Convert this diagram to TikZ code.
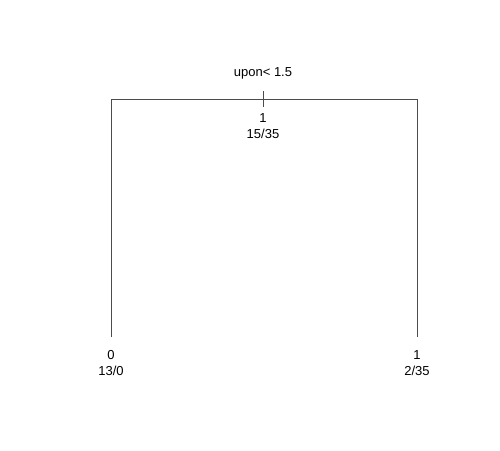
\documentclass[tikz,border=0pt]{standalone}
\usepackage{fontspec}
\setmainfont{Liberation Sans}
\begin{document}
\begin{tikzpicture}[x=1pt,y=-1pt,
  lbl/.style={inner sep=0pt,font=\fontsize{13}{15}\selectfont},
  edge/.style={draw=black!70,line width=0.8pt}]
\useasboundingbox (0,0) rectangle (500,450);
\coordinate (L) at (111,99);
\coordinate (R) at (417,99);
\coordinate (Lb) at (111,337);
\coordinate (Rb) at (417,337);
\coordinate (T1) at (263,91);
\coordinate (T2) at (263,107);
\draw[edge] (Lb) -- (L) -- (R) -- (Rb);
\draw[edge] (T1) -- (T2);
\node[lbl] (split) at (263,73) {upon< 1.5};
\node[lbl] (rcls) at (263,118) {1};
\node[lbl] (rcnt) at (263,134) {15/35};
\node[lbl] (lcls) at (111,355) {0};
\node[lbl] (lcnt) at (111,371) {13/0};
\node[lbl] (rrcls) at (417,355) {1};
\node[lbl] (rrcnt) at (417,371) {2/35};
\end{tikzpicture}
\end{document}
